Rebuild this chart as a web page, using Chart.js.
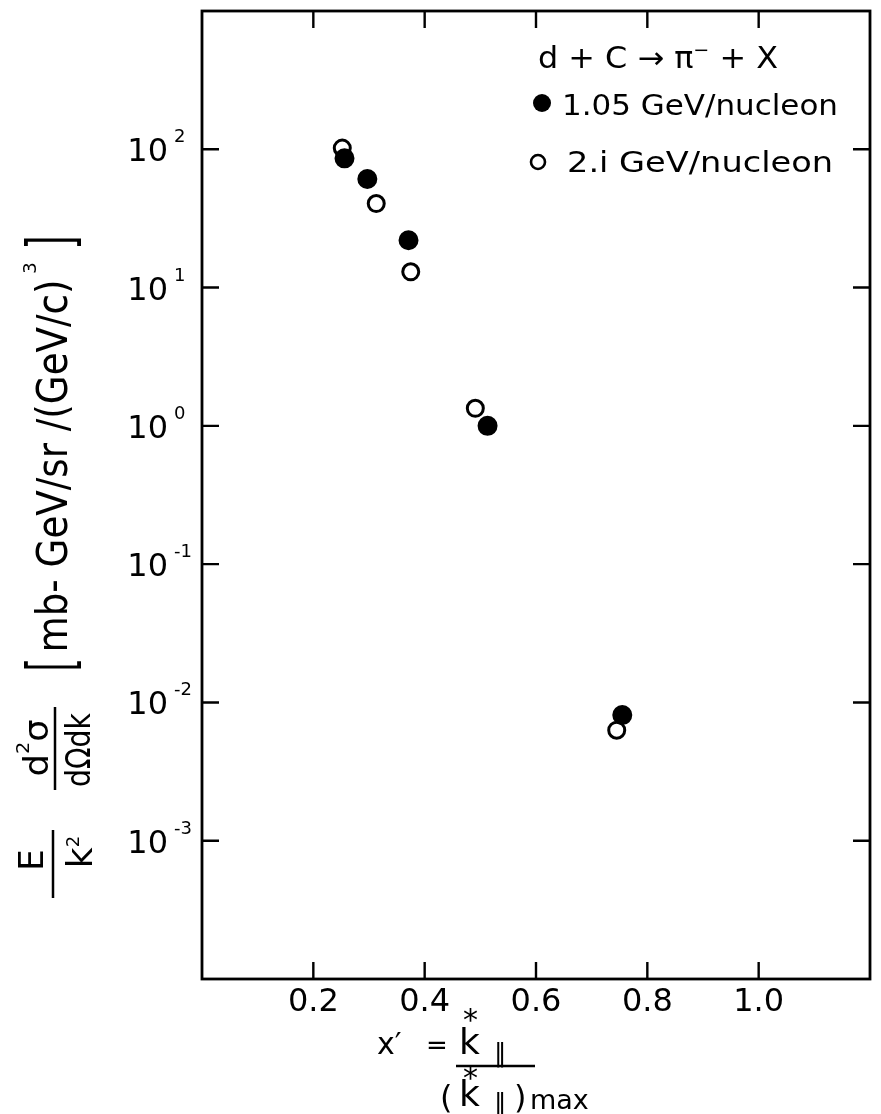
<!DOCTYPE html>
<html><head><meta charset="utf-8">
<script src="https://cdn.jsdelivr.net/npm/chart.js@4.4.1/dist/chart.umd.min.js"></script>
<style>html,body{margin:0;padding:0;background:#fff;}canvas{display:block;}</style>
</head><body>
<canvas id="c" width="881" height="1114" style="width:881px;height:1114px"></canvas>
<script>
// ---- data ----
const seriesLabels = ['1.05 GeV/nucleon', '2.i GeV/nucleon'];
const x105 = [0.256, 0.297, 0.371, 0.513, 0.755];
const y105 = [86, 61, 22, 1.0, 0.0081];
const x21  = [0.252, 0.313, 0.375, 0.491, 0.745];
const y21  = [102, 40.5, 13, 1.34, 0.0063];
const xTickValues = [0.2, 0.4, 0.6, 0.8, 1.0];
const xTickLabels = ['0.2', '0.4', '0.6', '0.8', '1.0'];
const yTickExponents = [2, 1, 0, -1, -2, -3];
const yTickLabels = ['2', '1', '0', '-1', '-2', '-3'];
const reactionText = ['d + C ', '\u2192', ' \u03c0', '\u2212', ' + X'];

const FONT = '"DejaVu Sans", sans-serif';
const BLACK = '#000';

function rotRun(ctx, pieces, baseX, centerY, fitLen) {
  ctx.save();
  let total = 0;
  for (const p of pieces) {
    ctx.font = (p.size) + 'px ' + (p.family || FONT);
    p.w = ctx.measureText(p.t).width * (p.sx || 1);
    total += p.w;
  }
  const s = fitLen ? fitLen / total : 1;
  ctx.translate(baseX, centerY + total * s / 2);
  ctx.rotate(-Math.PI / 2);
  ctx.textAlign = 'left';
  ctx.textBaseline = 'alphabetic';
  ctx.fillStyle = BLACK;
  let u = 0;
  for (const p of pieces) {
    ctx.font = (p.size) + 'px ' + (p.family || FONT);
    ctx.save();
    ctx.translate(u, p.dv || 0);
    ctx.scale(s * (p.sx || 1), 1);
    ctx.fillText(p.t, 0, 0);
    ctx.restore();
    u += p.w * s;
  }
  ctx.restore();
}

function textFit(ctx, t, x, y, size, width, family) {
  ctx.save();
  ctx.font = size + 'px ' + (family || FONT);
  const w = ctx.measureText(t).width;
  ctx.translate(x, y);
  if (width) ctx.scale(width / w, 1);
  ctx.textAlign = 'left';
  ctx.textBaseline = 'alphabetic';
  ctx.fillStyle = BLACK;
  ctx.fillText(t, 0, 0);
  ctx.restore();
}

const framePlugin = {
  id: 'frame',
  beforeDatasetsDraw(chart) {
    const {ctx, chartArea: a, scales} = chart;
    ctx.save();
    ctx.strokeStyle = BLACK;
    ctx.lineWidth = 2.8;
    ctx.strokeRect(a.left, a.top, a.right - a.left, a.bottom - a.top);
    ctx.lineWidth = 2.4;
    const L = 17;
    ctx.beginPath();
    for (const v of xTickValues) {
      const px = scales.x.getPixelForValue(v);
      ctx.moveTo(px, a.bottom); ctx.lineTo(px, a.bottom - L);
      ctx.moveTo(px, a.top); ctx.lineTo(px, a.top + L);
    }
    for (const e of yTickExponents) {
      const py = scales.y.getPixelForValue(Math.pow(10, e));
      ctx.moveTo(a.left, py); ctx.lineTo(a.left + L, py);
      ctx.moveTo(a.right, py); ctx.lineTo(a.right - L, py);
    }
    ctx.stroke();
    ctx.restore();
  }
};

const textPlugin = {
  id: 'texts',
  afterDraw(chart) {
    const {ctx, scales} = chart;
    ctx.save();
    ctx.fillStyle = BLACK;
    ctx.strokeStyle = BLACK;
    // y tick labels 10^n
    yTickExponents.forEach((e, i) => {
      const py = scales.y.getPixelForValue(Math.pow(10, e));
      ctx.font = '32px ' + FONT;
      ctx.textAlign = 'right';
      ctx.textBaseline = 'alphabetic';
      ctx.fillText('10', 168, py + 12);
      ctx.font = '18px ' + FONT;
      ctx.textAlign = 'left';
      ctx.fillText(yTickLabels[i], 174, py - 7);
    });

    // ---- y axis title (rotated) ----
    rotRun(ctx, [{t: ']', size: 62, family: '"Liberation Sans"', sx: 0.6}], 68, 241);
    rotRun(ctx, [{t: '3', size: 18}], 36, 268);
    rotRun(ctx, [{t: 'mb- GeV/sr /(GeV/c)', size: 43}], 67, 466, 373);
    rotRun(ctx, [{t: '[', size: 62, family: '"Liberation Sans"', sx: 0.6}], 68, 666);
    // d2sigma / dOmega dk
    rotRun(ctx, [{t: 'd', size: 33}, {t: '2', size: 18, dv: -19}, {t: '\u03c3', size: 33}], 48, 748, 57);
    ctx.lineWidth = 2.5;
    ctx.beginPath(); ctx.moveTo(55, 707); ctx.lineTo(55, 790); ctx.stroke();
    rotRun(ctx, [{t: 'd\u03a9dk', size: 33}], 90, 750, 74);
    // E / k^2
    rotRun(ctx, [{t: 'E', size: 34}], 43, 860);
    ctx.beginPath(); ctx.moveTo(53, 830); ctx.lineTo(53, 898); ctx.stroke();
    rotRun(ctx, [{t: 'k', size: 36}, {t: '2', size: 18, dv: -13}], 92, 852);

    // ---- x axis title ----
    ctx.textAlign = 'left';
    ctx.textBaseline = 'alphabetic';
    ctx.font = '30px ' + FONT;
    ctx.fillText('x\u2032', 377, 1054);
    ctx.font = '26px ' + FONT;
    ctx.fillText('=', 426, 1054);
    // numerator
    ctx.font = '36px ' + FONT;
    ctx.fillText('k', 459, 1054);
    ctx.font = '30px ' + FONT;
    ctx.fillText('*', 463, 1030);
    ctx.font = '26px ' + FONT;
    ctx.fillText('\u2225', 494, 1062);
    ctx.lineWidth = 2.4;
    ctx.beginPath(); ctx.moveTo(456, 1066); ctx.lineTo(535, 1066); ctx.stroke();
    // denominator
    ctx.font = '32px ' + FONT;
    ctx.fillText('(', 440, 1108);
    ctx.font = '36px ' + FONT;
    ctx.fillText('k', 459, 1106);
    ctx.font = '30px ' + FONT;
    ctx.fillText('*', 463, 1088);
    ctx.font = '26px ' + FONT;
    ctx.fillText('\u2225', 494, 1112);
    ctx.font = '32px ' + FONT;
    ctx.fillText(')', 514, 1108);
    ctx.font = '27px ' + FONT;
    ctx.fillText('max', 530, 1109);

    // ---- reaction annotation ----
    {
      const sizes = [30, 30, 30, 18, 30];
      const dy = [0, 0, 0, -12, 0];
      let w = 0;
      const ws = reactionText.map((t, i) => { ctx.font = sizes[i] + 'px ' + FONT; const m = ctx.measureText(t).width; w += m; return m; });
      const s = 240 / w;
      let x = 538;
      reactionText.forEach((t, i) => {
        ctx.save();
        ctx.font = sizes[i] + 'px ' + FONT;
        ctx.translate(x, 68 + dy[i]);
        ctx.scale(s, 1);
        ctx.fillText(t, 0, 0);
        ctx.restore();
        x += ws[i] * s;
      });
    }
    // ---- legend ----
    const ds = chart.data.datasets;
    ctx.beginPath(); ctx.arc(542, 103, 9, 0, Math.PI * 2); ctx.fillStyle = ds[0].backgroundColor; ctx.fill();
    ctx.fillStyle = BLACK;
    textFit(ctx, seriesLabels[0], 562, 115, 29, 276);
    ctx.lineWidth = 2.6;
    ctx.beginPath(); ctx.arc(538, 162, 7, 0, Math.PI * 2); ctx.stroke();
    textFit(ctx, seriesLabels[1], 567, 172, 29, 266);
    ctx.restore();
  }
};

new Chart(document.getElementById('c'), {
  type: 'scatter',
  data: {
    datasets: [
      { label: seriesLabels[0], data: x105.map((x, i) => ({x: x, y: y105[i]})),
        pointStyle: 'circle', pointRadius: 9, borderWidth: 2,
        backgroundColor: '#000', borderColor: '#000', order: 2 },
      { label: seriesLabels[1], data: x21.map((x, i) => ({x: x, y: y21[i]})),
        pointStyle: 'circle', pointRadius: 8, borderWidth: 3,
        backgroundColor: 'rgba(0,0,0,0)', borderColor: '#000', order: 1 }
    ]
  },
  options: {
    responsive: false, animation: false, devicePixelRatio: 1,
    layout: {padding: {left: 0, top: 5, right: 9, bottom: 0}},
    plugins: {legend: {display: false}, tooltip: {enabled: false}},
    scales: {
      x: {
        type: 'linear', min: 0, max: 1.2, position: 'bottom',
        ticks: {
          stepSize: 0.2, autoSkip: false, maxRotation: 0, minRotation: 0, padding: 4, color: '#000',
          font: {family: FONT, size: 32},
          callback: (v) => {
            const i = xTickValues.findIndex(t => Math.abs(t - v) < 1e-6);
            return i >= 0 ? xTickLabels[i] : '';
          }
        },
        grid: {display: false, drawTicks: false}, border: {display: false},
        afterFit(s) { s.height = 135; }
      },
      y: {
        type: 'logarithmic', min: 1e-4, max: 1e3, position: 'left',
        ticks: {display: false}, grid: {display: false, drawTicks: false}, border: {display: false},
        afterFit(s) { s.width = 202; }
      }
    }
  },
  plugins: [framePlugin, textPlugin]
});
</script></body></html>
